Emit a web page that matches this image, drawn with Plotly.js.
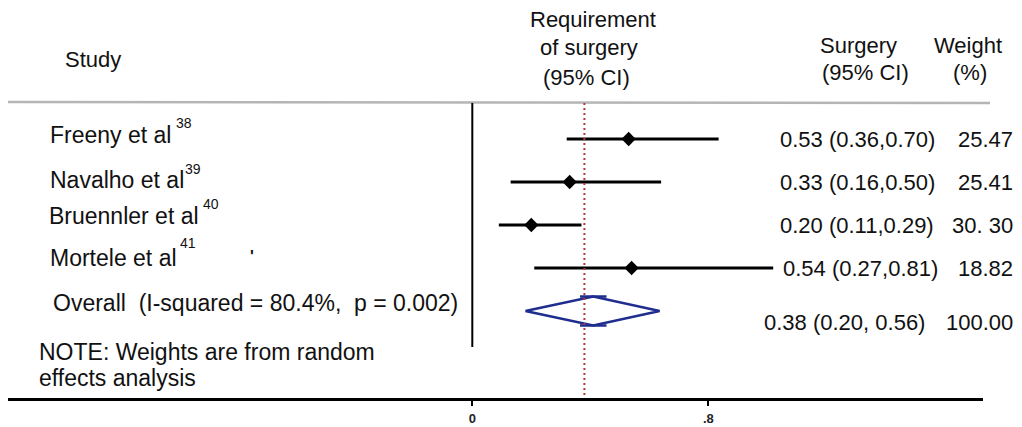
<!DOCTYPE html>
<html>
<head>
<meta charset="utf-8">
<script src="https://cdn.plot.ly/plotly-3.0.1.min.js"></script>
<style>html,body{margin:0;padding:0;background:#fff;}#chart{width:1022px;height:427px;}</style>
</head>
<body>
<div id="chart"></div>
<script>
// ---------- data ----------
const studies   = ['Freeny et al', 'Navalho et al', 'Bruennler et al', 'Mortele et al'];
const refs      = ['38', '39', '40', '41'];
const est       = [0.53, 0.33, 0.20, 0.54];          // plotted point estimates
const ciLo      = [0.32, 0.13, 0.09, 0.21];          // plotted CI line left ends
const ciHi      = [0.835, 0.64, 0.37, 1.02];         // plotted CI line right ends
const ciLabels  = ['0.53 (0.36,0.70)', '0.33 (0.16,0.50)', '0.20 (0.11,0.29)', '0.54 (0.27,0.81)'];
const weights   = ['25.47', '25.41', '30. 30', '18.82'];
const overallLabel  = 'Overall  (I-squared = 80.4%,  p = 0.002)';
const overallEst    = 0.41;   // diamond centre as drawn
const overallLo     = 0.18;
const overallHi     = 0.635;
const overallLine   = 0.38;   // red dotted reference line
const overallCI     = '0.38 (0.20, 0.56)';
const overallWeight = '100.00';
const tickVals  = [0, 0.8];
const tickText  = ['0', '.8'];

// ---------- layout geometry (pixels) ----------
const W = 1022, H = 427, BOTTOM = 29, PH = H - BOTTOM;
const ROW0 = 139, ROWSTEP = 43;
const PX0 = 472.3, PXU = 295;            // pixel of x=0, pixels per unit
const AX_L = 8, AX_R = 983;
const px = p => p / W;
const py = p => 1 - p / PH;
const dx = p => (p - PX0) / PXU;

const FONT = 'Liberation Sans, Arial, Helvetica, sans-serif';
const TXT = '#111';
const F22 = {family: FONT, size: 22, color: TXT};
const F23 = {family: FONT, size: 23, color: TXT};

// ---------- traces ----------
const lx = [], ly = [];
est.forEach((e, i) => { lx.push(ciLo[i], ciHi[i], null); ly.push(i, i, null); });
const oi = studies.length;
const hh = 14.5 / ROWSTEP;

const traces = [
  {x: lx, y: ly, mode: 'lines', line: {color: '#000', width: 3}, hoverinfo: 'skip', showlegend: false},
  {x: est, y: est.map((_, i) => i), mode: 'markers',
   marker: {symbol: 'diamond', size: 11, color: '#000'}, showlegend: false},
  {x: [overallLo, overallEst, overallHi, overallEst, overallLo],
   y: [oi, oi - hh, oi, oi + hh, oi], mode: 'lines',
   line: {color: '#1f2d8f', width: 2.5}, showlegend: false},
  {x: [overallEst - 0.045, overallEst + 0.045, null, overallEst - 0.045, overallEst + 0.045],
   y: [oi - hh, oi - hh, null, oi + hh, oi + hh], mode: 'lines',
   line: {color: '#1f2d8f', width: 2.5}, showlegend: false}
];

// ---------- annotations ----------
const ann = [];
function txt(text, x, y, opts) {
  ann.push(Object.assign({text: text, x: x, y: y, xref: 'paper', yref: 'paper',
    showarrow: false, xanchor: 'left', yanchor: 'middle', borderpad: 0,
    font: F22}, opts || {}));
}
// headers
txt('Study', px(64), py(60));
txt('Requirement', px(593), py(19), {xanchor: 'center'});
txt('of surgery', px(589), py(47), {xanchor: 'center'});
txt('(95% CI)', px(586), py(77), {xanchor: 'center'});
txt('Surgery', px(858), py(46), {xanchor: 'center'});
txt('(95% CI)', px(865), py(73), {xanchor: 'center'});
txt('Weight', px(968), py(46), {xanchor: 'center'});
txt('(%)', px(970), py(73), {xanchor: 'center'});

// study labels
const labelY   = [135, 180, 216, 258];
const labelX   = [49, 49, 48, 49];
const supX     = [175, 184, 202, 179];
const supY     = [123, 169, 204, 243];
studies.forEach((s, i) => {
  txt(s, px(labelX[i]), py(labelY[i]), {font: F23});
  txt(refs[i], px(supX[i]), py(supY[i]), {font: {family: FONT, size: 14, color: TXT}});
  ann.push({text: ciLabels[i], x: px(i === 3 ? 782 : 779), y: i, xref: 'paper', yref: 'y',
    showarrow: false, xanchor: 'left', yanchor: 'middle', borderpad: 0, font: F22});
  ann.push({text: weights[i], x: px(1014), y: i, xref: 'paper', yref: 'y',
    showarrow: false, xanchor: 'right', yanchor: 'middle', borderpad: 0, font: F22});
});
txt("'", px(249), py(256), {font: {family: FONT, size: 16, color: TXT, weight: 'bold'}});
txt(overallLabel, px(52), py(303), {font: F23});
ann.push({text: overallCI, x: px(763), y: oi + 11 / ROWSTEP, xref: 'paper', yref: 'y',
  showarrow: false, xanchor: 'left', yanchor: 'middle', borderpad: 0, font: F22});
ann.push({text: overallWeight, x: px(1014), y: oi + 11 / ROWSTEP, xref: 'paper', yref: 'y',
  showarrow: false, xanchor: 'right', yanchor: 'middle', borderpad: 0, font: F22});
txt('NOTE: Weights are from random', px(38), py(352), {font: F23});
txt('effects analysis', px(38), py(378), {font: F23});

// ---------- shapes ----------
const shapes = [
  {type: 'line', xref: 'paper', yref: 'paper', x0: px(8), x1: px(990), y0: py(102), y1: py(103),
   line: {color: '#b5b5b5', width: 2.5}},
  {type: 'line', xref: 'x', yref: 'paper', x0: 0, x1: 0, y0: py(103), y1: py(347),
   line: {color: '#000', width: 2}},
  {type: 'line', xref: 'x', yref: 'paper', x0: overallLine, x1: overallLine, y0: py(103), y1: py(398),
   line: {color: '#b03a3a', width: 2, dash: '2px,3px'}}
];

const layout = {
  width: W, height: H,
  margin: {l: 0, r: 0, t: 0, b: BOTTOM, pad: 0},
  paper_bgcolor: '#fff', plot_bgcolor: '#fff',
  showlegend: false,
  xaxis: {
    domain: [px(AX_L), px(AX_R)],
    range: [dx(AX_L), dx(AX_R)],
    showgrid: false, zeroline: false,
    showline: true, linecolor: '#000', linewidth: 2.5,
    ticks: 'outside', ticklen: 5, tickwidth: 2, tickcolor: '#000',
    tickvals: tickVals, ticktext: tickText,
    tickfont: {family: FONT, size: 13, color: '#222', weight: 'bold'},
    ticklabelstandoff: 2,
    fixedrange: true
  },
  yaxis: {
    range: [(PH - ROW0) / ROWSTEP, -ROW0 / ROWSTEP],
    visible: false, fixedrange: true
  },
  annotations: ann,
  shapes: shapes
};

Plotly.newPlot('chart', traces, layout, {staticPlot: true, displayModeBar: false});
</script>
</body>
</html>
